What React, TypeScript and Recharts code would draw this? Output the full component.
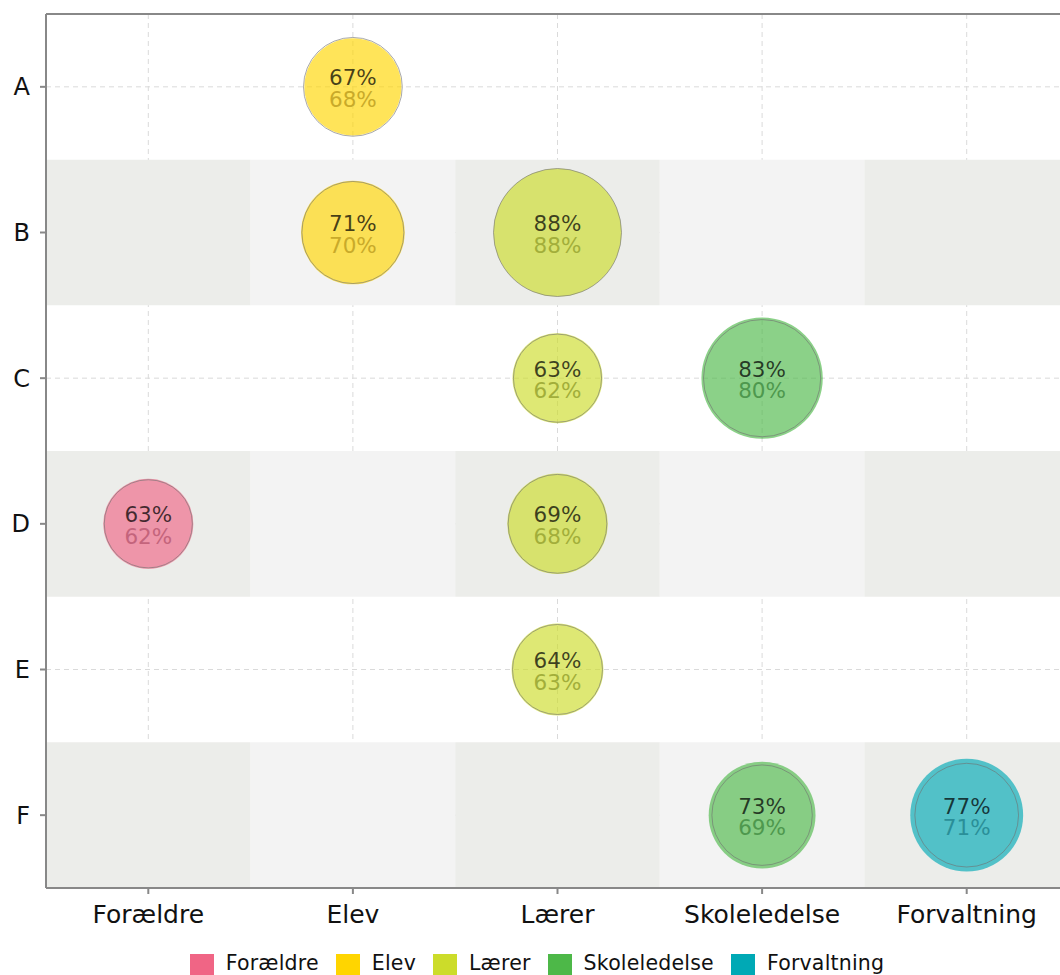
import {
  ScatterChart,
  Scatter,
  XAxis,
  YAxis,
  ZAxis,
  CartesianGrid,
  ReferenceArea,
  ReferenceLine,
  Legend,
  LabelList,
} from 'recharts';

const categories = ['Forældre', 'Elev', 'Lærer', 'Skoleledelse', 'Forvaltning'];
const rows = ['A', 'B', 'C', 'D', 'E', 'F'];
const shadedRows = ['B', 'D', 'F'];

const colors = ['#F06585', '#FFD500', '#CCDC2A', '#4DB848', '#00A9B5'];
const prevLabelColors = ['#C4647C', '#C9AA2A', '#A2AE3A', '#4E984E', '#2A8F98'];

// now = top label, prev = lower label
const foraeldre = [{ row: 'D', now: 63, prev: 62 }];
const elev = [
  { row: 'A', now: 67, prev: 68 },
  { row: 'B', now: 71, prev: 70 },
];
const laerer = [
  { row: 'B', now: 88, prev: 88 },
  { row: 'C', now: 63, prev: 62 },
  { row: 'D', now: 69, prev: 68 },
  { row: 'E', now: 64, prev: 63 },
];
const skoleledelse = [
  { row: 'C', now: 83, prev: 80 },
  { row: 'F', now: 73, prev: 69 },
];
const forvaltning = [{ row: 'F', now: 77, prev: 71 }];

const seriesData = [foraeldre, elev, laerer, skoleledelse, forvaltning];

const FONT = 'DejaVu Sans';
const Z_DOMAIN = [62, 88];
const Z_RANGE = [6101, 12868];

const xTicks = categories.map((_, i) => i);
const yTicks = rows.map((_, i) => i);

const centerOf = (props: any) => {
  const vb = props.viewBox ?? props;
  return { cx: vb.x + vb.width / 2, cy: vb.y + vb.height / 2 };
};

const makeLabel = (dy: number, color: string) => (props: any) => {
  const { cx, cy } = centerOf(props);
  return (
    <text
      x={cx}
      y={cy + dy}
      textAnchor="middle"
      fill={color}
      fontSize={21.5}
      fontFamily={FONT}
    >
      {props.value}%
    </text>
  );
};

export default function App() {
  const points = seriesData.map((list, i) =>
    list.map(d => ({ x: i, y: rows.indexOf(d.row), now: d.now, prev: d.prev }))
  );

  return (
    <div
      style={{
        position: 'absolute',
        left: 0,
        top: 0,
        width: 1060,
        height: 975,
        overflow: 'hidden',
        background: '#fff',
      }}
    >
      <ScatterChart width={1080} height={984} margin={{ top: 14, right: 11, bottom: 0, left: 0 }}>
        {shadedRows.map(r =>
          categories.map((c, ci) => (
            <ReferenceArea
              key={r + c}
              x1={ci - 0.5}
              x2={ci + 0.5}
              y1={rows.indexOf(r) - 0.5}
              y2={rows.indexOf(r) + 0.5}
              fill={ci % 2 === 0 ? '#ECEDEA' : '#F3F3F3'}
              fillOpacity={1}
              stroke="none"
            />
          ))
        )}
        <CartesianGrid strokeDasharray="5 4" stroke="#dadada" />
        <XAxis
          type="number"
          dataKey="x"
          domain={[-0.5, categories.length - 0.5]}
          ticks={xTicks}
          interval={0}
          tickFormatter={(i: number) => categories[i]}
          height={66}
          axisLine={{ stroke: '#888', strokeWidth: 2 }}
          tickLine={{ stroke: '#888', strokeWidth: 2 }}
          tickSize={6}
          tickMargin={11}
          tick={{ fill: '#111', fontSize: 25, fontFamily: FONT }}
        />
        <YAxis
          type="number"
          dataKey="y"
          reversed
          domain={[-0.5, rows.length - 0.5]}
          ticks={yTicks}
          interval={0}
          tickFormatter={(i: number) => rows[i]}
          width={46}
          axisLine={{ stroke: '#888', strokeWidth: 2 }}
          tickLine={{ stroke: '#888', strokeWidth: 2 }}
          tickSize={6}
          tickMargin={10}
          tick={{ fill: '#111', fontSize: 24, fontFamily: FONT }}
        />
        <ZAxis zAxisId="now" dataKey="now" type="number" domain={Z_DOMAIN} range={Z_RANGE} />
        <ZAxis zAxisId="prev" dataKey="prev" type="number" domain={Z_DOMAIN} range={Z_RANGE} />
        <ReferenceLine y={-0.5} stroke="#888" strokeWidth={2} />
        <ReferenceLine x={categories.length - 0.5} stroke="#888" strokeWidth={2} />

        {points.map((data, i) => (
          <Scatter
            key={'now' + i}
            name={categories[i]}
            data={data}
            zAxisId="now"
            fill={colors[i]}
            fillOpacity={0.65}
            stroke="none"
            isAnimationActive={false}
          />
        ))}
        {points.map((data, i) => (
          <Scatter
            key={'prev' + i}
            name={categories[i] + ' prev'}
            data={data}
            zAxisId="prev"
            fill="none"
            stroke="#6f6f6f"
            strokeOpacity={0.6}
            strokeWidth={1}
            legendType="none"
            isAnimationActive={false}
          >
            <LabelList dataKey="now" content={makeLabel(-1.5, 'rgba(0,0,0,0.72)')} />
            <LabelList dataKey="prev" content={makeLabel(20, prevLabelColors[i])} />
          </Scatter>
        ))}

        <Legend
          verticalAlign="bottom"
          height={30}
          iconType="square"
          iconSize={24}
          itemSorter={(item: any) => categories.indexOf(item.value)}
          wrapperStyle={{ fontFamily: FONT, bottom: 3, left: 11 }}
          formatter={(value: string) => (
            <span
              style={{
                color: '#111',
                fontSize: 20.5,
                letterSpacing: 0.2,
                marginLeft: 8,
                marginRight: 7,
              }}
            >
              {value}
            </span>
          )}
        />
      </ScatterChart>
    </div>
  );
}
